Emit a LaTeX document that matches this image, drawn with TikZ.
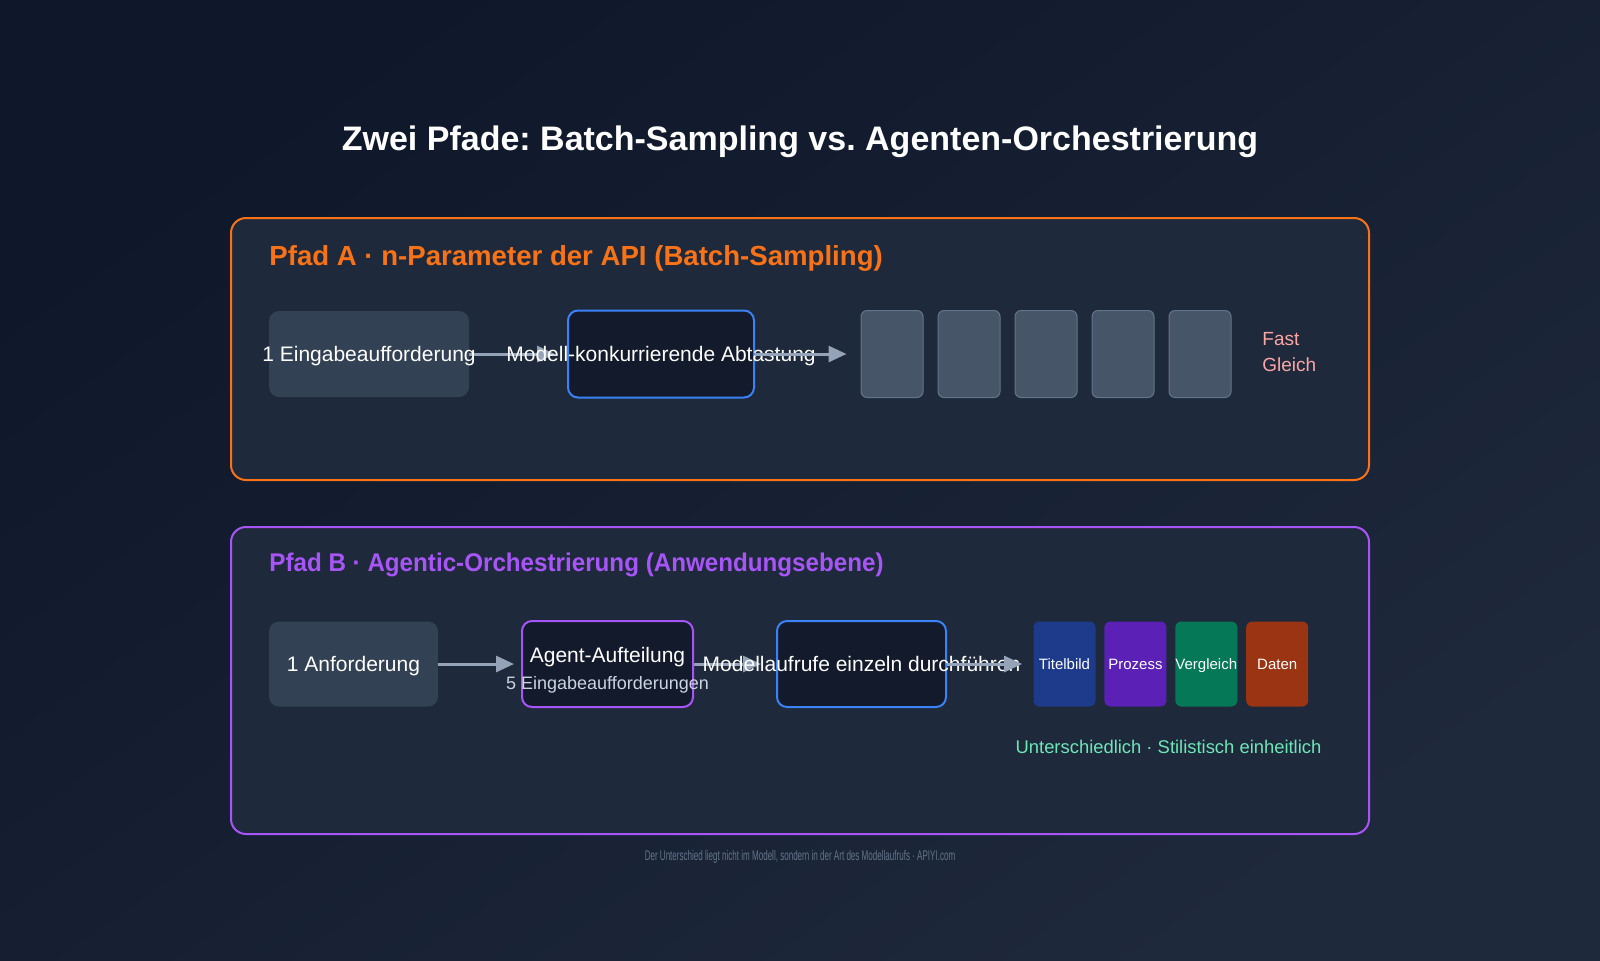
\documentclass[tikz,border=0pt]{standalone}
\usepackage{fontspec}
\setmainfont{Liberation Sans}
\usepackage{graphicx}
\usetikzlibrary{arrows.meta,positioning,backgrounds}
\frenchspacing
\definecolor{bgtop}{HTML}{0F172A}
\definecolor{bgbot}{HTML}{1E293B}
\definecolor{panelfill}{HTML}{1E293B}
\definecolor{orangeA}{HTML}{F97316}
\definecolor{purpleB}{HTML}{A855F7}
\definecolor{slatebox}{HTML}{334155}
\definecolor{modelblue}{HTML}{3B82F6}
\definecolor{inkdark}{HTML}{131A2C}
\definecolor{cardfill}{HTML}{475569}
\definecolor{cardline}{HTML}{64748B}
\definecolor{flowgray}{HTML}{94A3B8}
\definecolor{pinknote}{HTML}{FCA5A5}
\definecolor{mintnote}{HTML}{6EE7B7}
\definecolor{subgray}{HTML}{CBD5E1}
\definecolor{footgray}{HTML}{64748B}
\definecolor{cardblue}{HTML}{1E3A8A}
\definecolor{cardviolet}{HTML}{5B21B6}
\definecolor{cardgreen}{HTML}{047857}
\definecolor{cardrust}{HTML}{9A3412}
% text centred on its cap height, allowed to run over the box edges
\newcommand{\midtext}[2][3.7pt]{\makebox[0pt]{\raisebox{-#1}[0pt][0pt]{#2}}}
\tikzset{
  panel/.style={line width=1pt, rounded corners=7.5pt, fill=panelfill},
  heading/.style={
    anchor=west, inner sep=0pt,
    font=\bfseries\fontsize{13.8}{16}\selectfont
  },
  stepbox/.style={
    fill=slatebox, rounded corners=5pt, inner sep=0pt,
    minimum height=43pt, text=white,
    font=\fontsize{10.5}{12.6}\selectfont
  },
  callbox/.style={
    draw=modelblue, line width=1pt, fill=inkdark, rounded corners=5pt,
    inner sep=0pt, minimum height=43pt, text=white,
    font=\fontsize{10.5}{12.6}\selectfont
  },
  outcard/.style={
    draw=cardline, line width=0.5pt, fill=cardfill, rounded corners=3pt,
    minimum width=31pt, minimum height=43.5pt, inner sep=0pt
  },
  tagcard/.style={
    rounded corners=3pt, minimum width=31pt, minimum height=42.5pt,
    inner sep=0pt, text=white, font=\fontsize{7.5}{9}\selectfont
  },
  flow/.style={-{Triangle[length=9pt,width=8pt]}, line width=1.5pt, draw=flowgray}
}
\begin{document}
\begin{tikzpicture}[x=0.5pt, y=-0.5pt]
  \useasboundingbox (0,0) rectangle (1600,960);
  \begin{scope}[on background layer]
    \shade[top color=bgtop, bottom color=bgbot, shading angle=35] (0,0) rectangle (1600,960);
    \draw[panel, draw=orangeA] (231,218) rectangle (1369,480);
    \draw[panel, draw=purpleB] (231,527) rectangle (1369,834);
  \end{scope}

  \node[text=white, font=\bfseries\fontsize{17}{20}\selectfont] (title) at (800,142)
    {Zwei Pfade: Batch-Sampling vs. Agenten-Orchestrierung};

  % Pfad A
  \node[heading, text=orangeA] (headA) at (269,258) {Pfad A · n-Parameter der API (Batch-Sampling)};
  \node[stepbox, minimum width=100pt] (prompt) at (369,354) {\midtext{1 Eingabeaufforderung}};
  \node[callbox, minimum width=93pt, minimum height=43.5pt] (sampler) at (661,354)
    {\midtext{Modell-konkurrierende Abtastung}};
  \node[outcard] (out1) at (892,354) {};
  \node[outcard, right=7pt of out1] (out2) {};
  \node[outcard, right=7pt of out2] (out3) {};
  \node[outcard, right=7pt of out3] (out4) {};
  \node[outcard, right=7pt of out4] (out5) {};
  \node[anchor=west, align=left, inner sep=0pt, text=pinknote, font=\fontsize{9.5}{13}\selectfont] (sameA)
    at (1262,352) {Fast\\Gleich};
  \begin{scope}[on background layer]
    \draw[flow, shorten >=6pt] (prompt) -- (sampler);
  \end{scope}
  \draw[flow, shorten >=7pt] (sampler) -- (out1);

  % Pfad B
  \node[heading, text=purpleB, font=\bfseries\fontsize{12.8}{15}\selectfont] (headB) at (269,565)
    {\scalebox{0.945}[1]{Pfad B · Agentic-Orchestrierung (Anwendungsebene)}};
  \node[stepbox, minimum width=84.5pt, minimum height=42.5pt] (request) at (353.5,664)
    {\midtext{1 Anforderung}};
  \node[callbox, draw=purpleB, minimum width=85.5pt] (splitter) at (607.5,664) {};
  \node[text=white, font=\fontsize{10.5}{12.6}\selectfont, inner sep=0pt] (splitname)
    at ([yshift=3.5pt]splitter.center) {Agent-Aufteilung};
  \node[text=subgray, font=\fontsize{9}{11}\selectfont, inner sep=0pt] (splitcount)
    at ([yshift=-10.5pt]splitter.center) {5 Eingabeaufforderungen};
  \node[callbox, minimum width=84.5pt] (caller) at (861.5,664)
    {\midtext{Modellaufrufe einzeln durchführen}};
  \node[tagcard, fill=cardblue] (tag1) at (1064.5,664) {\midtext[2.7pt]{Titelbild}};
  \node[tagcard, fill=cardviolet, right=4.05pt of tag1] (tag2) {\midtext[2.7pt]{Prozess}};
  \node[tagcard, fill=cardgreen, right=4.05pt of tag2] (tag3) {\midtext[2.7pt]{Vergleich}};
  \node[tagcard, fill=cardrust, right=4.05pt of tag3] (tag4) {\midtext[2.7pt]{Daten}};
  \node[text=mintnote, font=\fontsize{9.2}{11}\selectfont] (diffB) at (1168.5,747)
    {Unterschiedlich · Stilistisch einheitlich};
  \draw[flow, shorten >=3.5pt] (request) -- (splitter);
  \begin{scope}[on background layer]
    \draw[flow, shorten >=7.5pt] (splitter) -- (caller);
  \end{scope}
  \draw[flow, shorten >=5.5pt] (caller) -- (tag1);

  \node[text=footgray] (foot) at (800,857)
    {\scalebox{0.575}[1]{\fontsize{7}{8}\selectfont Der Unterschied liegt nicht im Modell, sondern in der Art des Modellaufrufs · APIYI.com}};
\end{tikzpicture}
\end{document}
